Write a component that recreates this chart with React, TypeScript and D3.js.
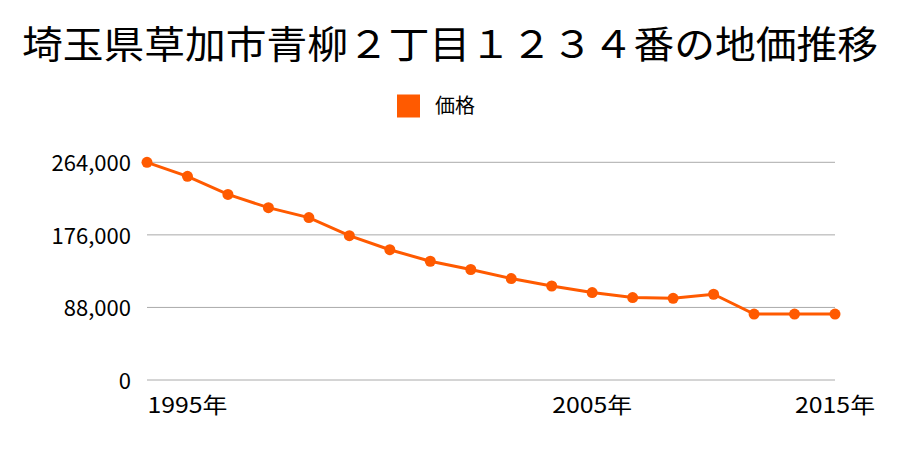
import React from "react";
import * as d3 from "d3";

const title = "埼玉県草加市青柳２丁目１２３４番の地価推移";
const seriesName = "価格";
const xLabels = ["", "1995年", "", "", "", "", "", "", "", "", "", "2005年", "", "", "", "", "", "2015年"];
const prices = [264000, 247000, 225000, 209000, 197000, 175000, 158000, 144000, 134000, 123000, 114000, 106000, 100000, 99000, 104000, 80000, 80000, 80000];
const yTicks = [0, 88000, 176000, 264000];

const W = 900, H = 450;
const FONT = "'Noto Sans CJK JP', 'Noto Sans', sans-serif";
const COLOR = "#ff5a00";

export default function App() {
  const idx = prices.map((_, i) => String(i));
  const x = d3.scalePoint<string>().domain(idx).range([147, 835]);
  const y = d3.scaleLinear().domain([0, 264000]).range([380, 162.3]);
  const line = d3.line<number>().x((_, i) => x(String(i))!).y((d) => y(d));
  const fmt = d3.format(",");
  return (
    <svg width={W} height={H} style={{ position: "absolute", left: 0, top: 0, background: "#fff" }} fontFamily={FONT}>
      <text x={450} y={58} textAnchor="middle" fontSize={38} textLength={856} lengthAdjust="spacingAndGlyphs" fill="#000">{title}</text>
      <rect x={397} y={94.5} width={23} height={23} fill={COLOR} />
      <text x={435} y={113} fontSize={20} fill="#000">{seriesName}</text>
      {yTicks.map((t) => (
        <g key={t}>
          <line x1={147} x2={835} y1={y(t)} y2={y(t)} stroke="#aaaaaa" strokeWidth={1} />
          <text x={131} y={y(t) + 9} textAnchor="end" fontSize={22} fill="#000">{fmt(t)}</text>
        </g>
      ))}
      {xLabels.map((l, i) => l ? (
        <text key={i} x={x(String(i))} y={413} textAnchor="middle" fontSize={22} textLength={80} lengthAdjust="spacingAndGlyphs" fill="#000">{l}</text>
      ) : null)}
      <path d={line(prices) || ""} fill="none" stroke={COLOR} strokeWidth={3} />
      {prices.map((p, i) => (
        <circle key={i} cx={x(String(i))} cy={y(p)} r={5.5} fill={COLOR} />
      ))}
    </svg>
  );
}
